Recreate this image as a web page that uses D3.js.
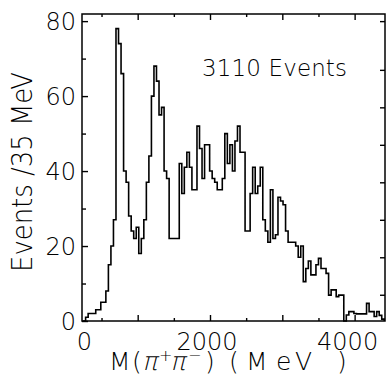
<!DOCTYPE html>
<html><head><meta charset="utf-8">
<script src="https://cdn.jsdelivr.net/npm/d3@7"></script>
<style>html,body{margin:0;padding:0;background:#fff;}svg{display:block;}</style>
</head><body><div id="chart"></div>
<script>
// ---- data ----
const binStartMeV = 245;     // first bin lower edge (MeV)
const binWidthMeV = 35;      // Events / 35 MeV
const counts = [
  0,1,2,2,2,3,3,5,5,8,
  15,20,27,78,74,66,40,37,28,24,
  22,25,18,22,27,37,44,60,68,64,
  55,57,40,38,22,22,22,22,42,34,
  41,45,41,35,35,52,46,38,47,47,
  40,38,37,35,35,38,50,42,47,40,
  48,52,45,45,24,24,34,41,34,36,
  41,27,24,21,35,22,23,33,32,31,
  24,21,21,21,20,17,20,10.5,14,16,
  12.3,12.3,15,16.7,14,14,12.7,6.9,8.3,8.3,
  6.5,6.9,6.9,0,1.6,2.5,2.5,2,1.9,1.9,
  1.9,1.9,4.7,2.5,2.5,1.2,2.5,1.5,0.5
];
const xTickValues = [500,1000,1500,2000,2500,3000,3500,4000];
const xLabelValues = [0,2000,4000];
const yTickValues = [0,10,20,30,40,50,60,70,80];
const yLabelValues = [0,20,40,60,80];
const yRightTicks = [7,17,27,37,47,57,67,80];
const annotation = "3110 Events";

// ---- layout ----
const W = 388, H = 390;
const mL = 82, mR = 385, mT = 14, mB = 321;
const FONT = "DejaVu Sans, Liberation Sans, sans-serif";
const WEIGHT = 300;

const svg = d3.select("#chart").append("svg").attr("width", W).attr("height", H);
svg.append("rect").attr("width", W).attr("height", H).attr("fill", "#fff");

const x = d3.scaleLinear().domain([230, 4420]).range([mL, mR]);
const y = d3.scaleLinear().domain([0, 81.9]).range([mB, mT]);

// histogram
const pts = [[binStartMeV, 0]];
counts.forEach((c, i) => pts.push([binStartMeV + i * binWidthMeV, c]));
const endE = binStartMeV + counts.length * binWidthMeV;
pts.push([endE, counts[counts.length - 1]]);
pts.push([endE, 0]);
const line = d3.line().x(d => x(d[0])).y(d => y(d[1])).curve(d3.curveStepAfter);
svg.append("path").attr("d", line(pts)).attr("fill", "none")
  .attr("stroke", "#000").attr("stroke-width", 1.6).attr("stroke-linejoin", "miter");

// frame
svg.append("rect").attr("x", mL).attr("y", mT).attr("width", mR - mL).attr("height", mB - mT)
  .attr("fill", "none").attr("stroke", "#000").attr("stroke-width", 1.5);

// axes (ticks inward)
const tickLenX = v => (v % 1000 === 0 ? 6 : 3);
const gB = svg.append("g").attr("transform", `translate(0,${mB})`)
  .call(d3.axisTop(x).tickValues(xTickValues).tickSize(0).tickFormat(""));
gB.select(".domain").remove();
gB.selectAll(".tick line").attr("y2", d => -tickLenX(d)).attr("stroke-width", 1.4);
const gT = svg.append("g").attr("transform", `translate(0,${mT})`)
  .call(d3.axisBottom(x).tickValues(xTickValues).tickSize(0).tickFormat(""));
gT.select(".domain").remove();
gT.selectAll(".tick line").attr("y2", d => tickLenX(d)).attr("stroke-width", 1.4);

const tickLenY = v => (v % 20 === 0 ? 6 : 4);
const gL = svg.append("g").attr("transform", `translate(${mL},0)`)
  .call(d3.axisRight(y).tickValues(yTickValues).tickSize(0).tickFormat(""));
gL.select(".domain").remove();
gL.selectAll(".tick line").attr("x2", d => tickLenY(d)).attr("stroke-width", 1.4);
const gR = svg.append("g").attr("transform", `translate(${mR},0)`)
  .call(d3.axisLeft(y).tickValues(yRightTicks).tickSize(5).tickFormat(""));
gR.select(".domain").remove();
gR.selectAll(".tick line").attr("stroke-width", 1.4);

// tick labels
const xLabPos = {0: 84.5, 2000: x(2000) - 3, 4000: x(4000) - 7};
svg.append("g").selectAll("text").data(xLabelValues).join("text")
  .attr("x", d => xLabPos[d])
  .attr("y", 350).attr("text-anchor", "middle")
  .attr("font-family", FONT).attr("font-weight", WEIGHT).attr("font-size", 24).text(d => String(d));

svg.append("g").selectAll("text").data(yLabelValues).join("text")
  .attr("x", 76).attr("y", d => y(d) + 8.5).attr("text-anchor", "end")
  .attr("font-family", FONT).attr("font-weight", WEIGHT).attr("font-size", 24).text(d => String(d));

// annotation
svg.append("text").attr("x", 202).attr("y", 76).attr("font-family", FONT).attr("font-weight", WEIGHT)
  .attr("font-size", 23).attr("textLength", 145).attr("lengthAdjust", "spacing").text(annotation);

// y title
svg.append("text").attr("transform", "translate(32,172) rotate(-90)")
  .attr("text-anchor", "middle").attr("font-family", FONT).attr("font-weight", WEIGHT).attr("font-size", 28)
  .attr("textLength", 200).attr("lengthAdjust", "spacingAndGlyphs")
  .text("Events /35 MeV");

// x title: M(π+π−)   (MeV)
const titleParts = [
  {t: "M", x: 109, dy: 0},
  {t: "(", x: 132, dy: 0},
  {t: "π", x: 142, dy: 0, pi: true},
  {t: "+", x: 159, dy: -9, small: true},
  {t: "π", x: 170, dy: 0, pi: true},
  {t: "−", x: 188, dy: -9, small: true},
  {t: ")", x: 205, dy: 0},
  {t: "(", x: 229, dy: 0},
  {t: "M", x: 246, dy: 0},
  {t: "e", x: 276, dy: 0},
  {t: "V", x: 295, dy: 0},
  {t: ")", x: 337, dy: 0}
];
svg.append("g").selectAll("text").data(titleParts).join("text")
  .attr("transform", d => `translate(${d.x},${370 + d.dy})` + (d.pi ? " skewX(-14)" : ""))
  .attr("font-family", FONT)
  .attr("font-weight", WEIGHT)
  .attr("font-size", d => d.small ? 16 : 25)
  .text(d => d.t);
</script></body></html>
